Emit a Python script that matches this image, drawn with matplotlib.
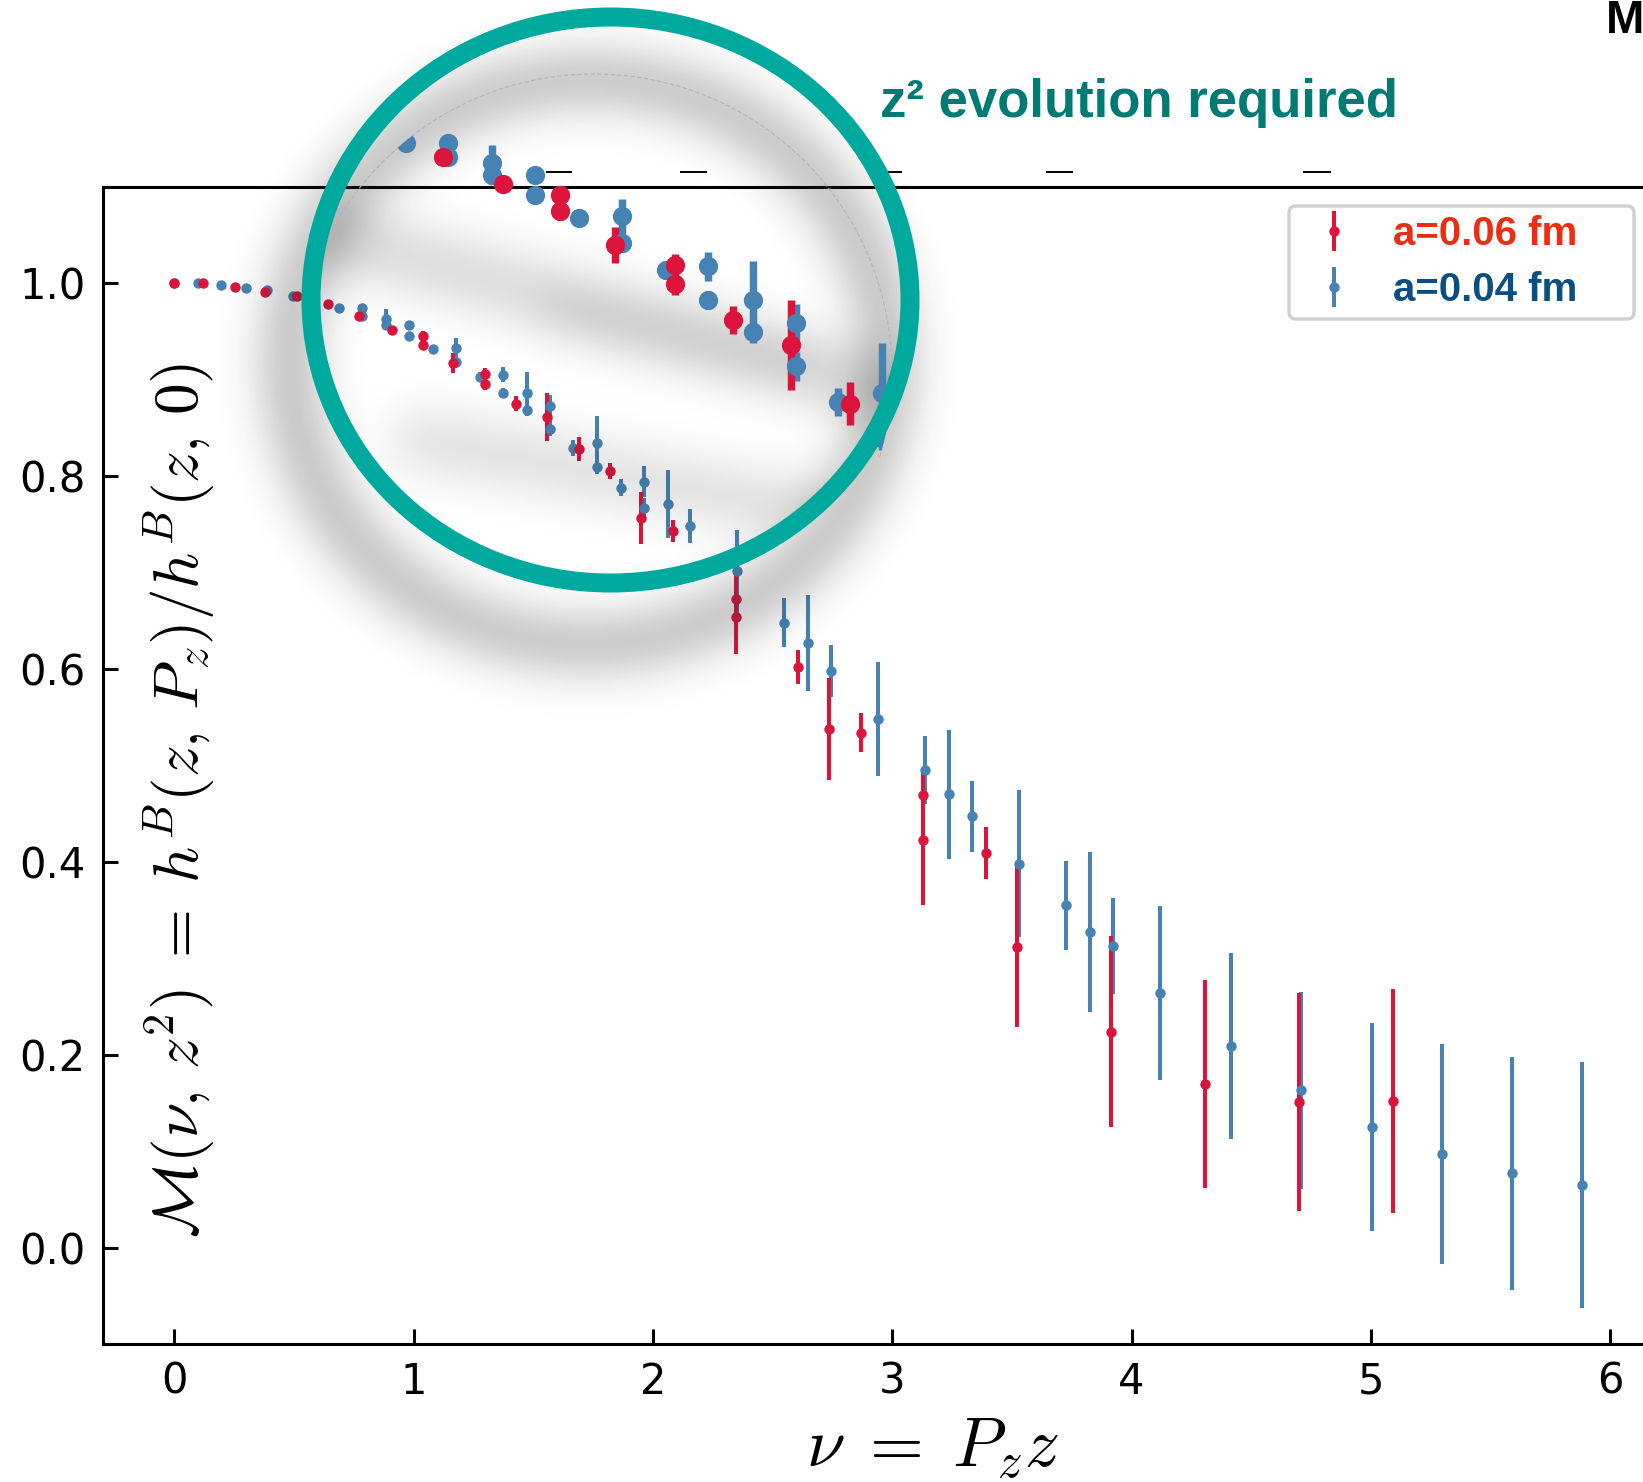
import numpy as np
import matplotlib
matplotlib.use("Agg")
import matplotlib.pyplot as plt
from matplotlib.patches import Ellipse, Arc, Circle, FancyBboxPatch

plt.rcParams["mathtext.fontset"] = "cm"

# ---------------- data: ratio M(nu, z^2) vs Ioffe time nu = Pz z ----------------
# a = 0.06 fm ensemble
nu_06 = [0.0, 0.12, 0.254, 0.379, 0.511, 0.644, 0.773, 0.909, 1.038, 1.038,
         1.163, 1.298, 1.298, 1.428, 1.559, 1.692, 1.821, 1.950, 2.083, 2.346,
         2.346, 2.605, 2.736, 2.868, 3.127, 3.127, 3.391, 3.520, 3.914, 4.306,
         4.700, 5.091]
m_06 = [1.000, 1.000, 0.996, 0.991, 0.987, 0.978, 0.966, 0.951, 0.945, 0.936,
        0.917, 0.906, 0.895, 0.875, 0.861, 0.828, 0.805, 0.756, 0.743, 0.672,
        0.654, 0.602, 0.538, 0.534, 0.469, 0.423, 0.409, 0.312, 0.224, 0.170,
        0.151, 0.152]
err_06 = [0.002, 0.002, 0.002, 0.003, 0.003, 0.003, 0.004, 0.004, 0.005, 0.005,
          0.010, 0.006, 0.006, 0.008, 0.025, 0.012, 0.008, 0.027, 0.011, 0.035,
          0.039, 0.018, 0.053, 0.020, 0.025, 0.068, 0.027, 0.083, 0.099, 0.108,
          0.113, 0.116]

# a = 0.04 fm ensemble
nu_04 = [0.0, 0.10, 0.195, 0.298, 0.389, 0.495, 0.690, 0.786, 0.786, 0.885,
         0.885, 0.982, 0.982, 1.082, 1.177, 1.177, 1.277, 1.372, 1.372, 1.473,
         1.473, 1.570, 1.570, 1.667, 1.765, 1.765, 1.865, 1.963, 1.963, 2.062,
         2.155, 2.353, 2.549, 2.648, 2.746, 2.942, 3.137, 3.237, 3.335, 3.531,
         3.726, 3.827, 3.924, 4.119, 4.414, 4.708, 5.004, 5.296, 5.591, 5.884]
m_04 = [1.000, 1.000, 0.998, 0.995, 0.993, 0.987, 0.974, 0.974, 0.966, 0.963,
        0.956, 0.956, 0.945, 0.932, 0.933, 0.918, 0.903, 0.905, 0.886, 0.886,
        0.868, 0.873, 0.849, 0.829, 0.834, 0.809, 0.788, 0.794, 0.767, 0.771,
        0.748, 0.701, 0.648, 0.627, 0.598, 0.548, 0.495, 0.470, 0.447, 0.398,
        0.355, 0.327, 0.313, 0.264, 0.209, 0.163, 0.125, 0.097, 0.077, 0.065]
err_04 = [0.002, 0.002, 0.002, 0.002, 0.003, 0.003, 0.003, 0.004, 0.004, 0.010,
          0.005, 0.004, 0.004, 0.004, 0.010, 0.005, 0.005, 0.008, 0.005, 0.022,
          0.006, 0.011, 0.008, 0.008, 0.028, 0.007, 0.009, 0.016, 0.010, 0.035,
          0.018, 0.043, 0.025, 0.050, 0.027, 0.059, 0.035, 0.067, 0.037, 0.076,
          0.046, 0.083, 0.050, 0.090, 0.096, 0.102, 0.108, 0.114, 0.121, 0.128]

series_labels = ["a=0.06 fm", "a=0.04 fm"]
x_ticks = [0, 1, 2, 3, 4, 5, 6]
y_ticks = [0.0, 0.2, 0.4, 0.6, 0.8, 1.0]
y_ticklabels = ["0.0", "0.2", "0.4", "0.6", "0.8", "1.0"]

RED = "#DC143C"
BLUE = "#4682B4"
TEAL = "#00A99D"
TEAL_DARK = "#007B73"

# ---------------- figure and main axes ----------------
W, H, DPI = 1643, 1482, 100
fig = plt.figure(figsize=(W / DPI, H / DPI), dpi=DPI)

XLIM = (-0.3, 6.65)
YLIM = (-0.1, 1.1)
PX_NU, PX_M = 239.3, 964.7          # pixels per data unit
X0_PX, Y0_PX = 174.3, 1247.7        # pixel position of the data origin
left_px = X0_PX + XLIM[0] * PX_NU
right_px = X0_PX + XLIM[1] * PX_NU
top_px = Y0_PX - YLIM[1] * PX_M
bot_px = Y0_PX - YLIM[0] * PX_M
ax = fig.add_axes([left_px / W, 1 - bot_px / H,
                   (right_px - left_px) / W, (bot_px - top_px) / H], zorder=1)

eb_kw = dict(fmt="o", ms=7.5, mew=0, elinewidth=2.9, capsize=0)
eb04 = ax.errorbar(nu_04, m_04, yerr=err_04, color=BLUE, **eb_kw)
eb06 = ax.errorbar(nu_06, m_06, yerr=err_06, color=RED, **eb_kw)

ax.set_xlim(*XLIM)
ax.set_ylim(*YLIM)
ax.set_xticks(x_ticks)
ax.set_yticks(y_ticks)
ax.set_yticklabels(y_ticklabels)
ax.tick_params(direction="in", length=10.5, width=2.2, labelsize=30, pad=12,
               top=False, right=False)
for side in ("left", "bottom", "top"):
    ax.spines[side].set_linewidth(2.2)
ax.spines["right"].set_visible(False)

ax.set_ylabel(r"$\mathcal{M}(\nu,\,z^2)\;=\;h^B(z,\,P_z)/h^B(z,\,0)$", fontsize=45.5)
ax.yaxis.set_label_coords((180 - left_px) / (right_px - left_px),
                          (bot_px - 800) / (bot_px - top_px))
ax.yaxis.label.set_verticalalignment("center")
ax.set_xlabel(r"$\nu\;=\;P_z z$", fontsize=50)
ax.xaxis.set_label_coords((932 - left_px) / (right_px - left_px),
                          (bot_px - 1449) / (bot_px - top_px))
ax.xaxis.label.set_verticalalignment("center")

# ---------------- pixel-space helpers ----------------
def pixel_axes(z):
    a = fig.add_axes([0, 0, 1, 1], zorder=z)
    a.set_xlim(0, W)
    a.set_ylim(H, 0)
    a.axis("off")
    a.patch.set_visible(False)
    return a

def blur(arr, s):
    p = int(3 * s)
    ap = np.pad(arr, p)
    ky = np.fft.fftfreq(ap.shape[0])[:, None]
    kx = np.fft.rfftfreq(ap.shape[1])[None, :]
    g = np.exp(-2 * (np.pi * s) ** 2 * (ky ** 2 + kx ** 2))
    out = np.fft.irfft2(np.fft.rfft2(ap) * g, s=ap.shape)
    return out[p:-p, p:-p]

RING_C = (610.5, 300.0)
RING_RX, RING_RY, RING_W = 299.5, 283.0, 19.0
LENS_RX, LENS_RY = RING_RX - RING_W / 2, RING_RY - RING_W / 2
GLASS_C, GLASS_R = (594.0, 372.0), 298.0     # edge of the magnified glass

yy, xx = np.mgrid[0:H, 0:W] + 0.5

def rnorm(cx, cy, rx, ry):
    return np.hypot((xx - cx) / rx, (yy - cy) / ry)

# drop shadow of the ring (offset down and to the left)
r_sh = rnorm(RING_C[0] - 22, RING_C[1] + 62, RING_RX, RING_RY)
shadow = blur((np.abs(r_sh - 1) < 0.07).astype(float), 24)
shadow = shadow / shadow.max() * 0.24

# soft diagonal streaks seen through the glass
def segment_mask(p, q, width):
    px, py = p
    qx, qy = q
    dx, dy = qx - px, qy - py
    t = np.clip(((xx - px) * dx + (yy - py) * dy) / (dx * dx + dy * dy), 0, 1)
    d = np.hypot(xx - (px + t * dx), yy - (py + t * dy))
    return (d < width / 2).astype(float)

streak_src = (segment_mask((330, 235), (900, 395), 60) * 0.7
              + segment_mask((420, 440), (860, 520), 55) * 0.6
              + segment_mask((560, 310), (800, 360), 40) * 0.4)
streaks = blur(streak_src, 22) * 0.25
inside = rnorm(RING_C[0], RING_C[1], LENS_RX, LENS_RY) < 1.0
streaks = streaks * inside

alpha = np.clip(shadow + streaks, 0, 0.4)
rgba = np.zeros((H, W, 4))
rgba[..., :3] = 0.15
rgba[..., 3] = alpha

ov = pixel_axes(2)
ov.imshow(rgba, extent=(0, W, H, 0), interpolation="bilinear", aspect="auto")
ov.add_patch(Arc(GLASS_C, 2 * GLASS_R, 2 * GLASS_R, theta1=195, theta2=377,
                 color="#b5b5b5", lw=0.8, ls=(0, (4, 2))))
for xa, xb in [(546, 572), (680, 707), (876, 902), (1046, 1073), (1303, 1331)]:
    ov.plot([xa, xb], [172, 172], color="black", lw=1.4, solid_capstyle="butt")

# legend frame (rounded light-grey box)
ov.add_patch(FancyBboxPatch((1289, 206), 345, 113, boxstyle="round,pad=0,rounding_size=7",
                            facecolor="white", edgecolor="#d0d0d0", lw=2.4))

# ---------------- magnified view inside the lens ----------------
MAG = 1.85
ANCHOR_DATA = (1.038, 0.9405)
ANCHOR_PX = (560.0, 203.0)
mag = fig.add_axes([0, 0, 1, 1], zorder=3)
mag.axis("off")
mag.patch.set_visible(False)
mx, my = PX_NU * MAG, PX_M * MAG
mag.set_xlim(ANCHOR_DATA[0] - ANCHOR_PX[0] / mx, ANCHOR_DATA[0] + (W - ANCHOR_PX[0]) / mx)
mag.set_ylim(ANCHOR_DATA[1] - (H - ANCHOR_PX[1]) / my, ANCHOR_DATA[1] + ANCHOR_PX[1] / my)

top = pixel_axes(4)
glass_clip = Circle(GLASS_C, GLASS_R, transform=top.transData)

mag_kw = dict(fmt="o", ms=7.5 * MAG, mew=0, elinewidth=2.9 * MAG, capsize=0)
for cont in (mag.errorbar(nu_04, m_04, yerr=err_04, color=BLUE, **mag_kw),
             mag.errorbar(nu_06, m_06, yerr=err_06, color=RED, **mag_kw)):
    for a in [cont[0]] + list(cont[1]) + list(cont[2]):
        a.set_clip_path(glass_clip)

# ---------------- ring, legend and slide annotations ----------------
top.add_patch(Ellipse(RING_C, 2 * RING_RX, 2 * RING_RY, fill=False,
                      edgecolor=TEAL, lw=RING_W * 72 / DPI))
top.text(880, 117, "z\u00b2 evolution required", family="Liberation Sans",
         weight="bold", fontsize=38, color=TEAL_DARK, ha="left", va="baseline")
top.text(1606, 33, "M", family="Liberation Sans", weight="bold", fontsize=33,
         color="black", ha="left", va="baseline")

leg = top.legend([eb06, eb04], series_labels, loc="upper left",
                 bbox_to_anchor=(1286 / W, 1 - 203 / H), bbox_transform=fig.transFigure,
                 prop=dict(family="Liberation Sans", weight="bold", size=29),
                 labelcolor=["#EE2C12", "#0B4F82"], handlelength=1.8,
                 handletextpad=0.55, borderpad=0.3, labelspacing=0.45,
                 borderaxespad=0, frameon=False)

fig.savefig("out.png", dpi=DPI)
